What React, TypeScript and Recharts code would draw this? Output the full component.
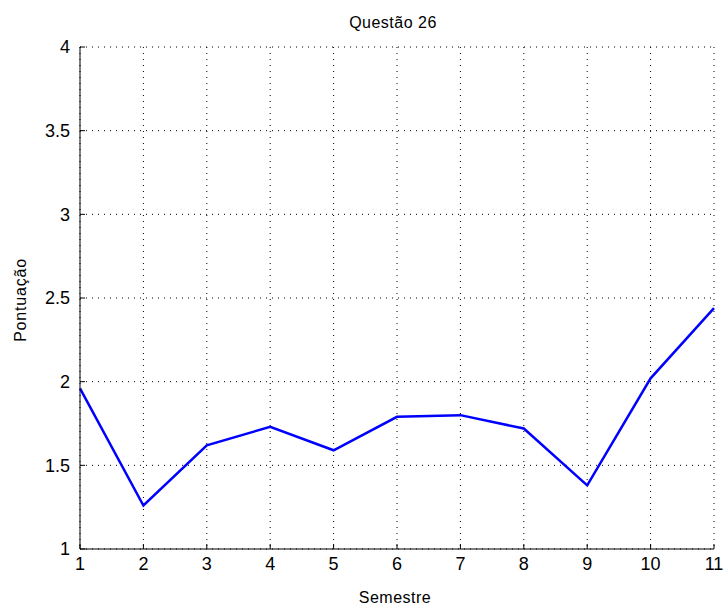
import React from "react";
import { LineChart, Line, XAxis, YAxis, CartesianGrid } from "recharts";

// semestres e pontuação média
const semestres = [1, 2, 3, 4, 5, 6, 7, 8, 9, 10, 11];
const pontuacao = [1.96, 1.26, 1.62, 1.73, 1.59, 1.79, 1.8, 1.72, 1.38, 2.02, 2.44];
const yTicks = [1, 1.5, 2, 2.5, 3, 3.5, 4];

const data = semestres.map((s, i) => ({ semestre: s, valor: pontuacao[i] }));

const FONT = "'Liberation Sans', Arial, sans-serif";

const XTick = (props: any) => {
  const { x, y, payload } = props;
  const axisY = y - 8;
  return (
    <g>
      <line x1={x} x2={x} y1={axisY} y2={axisY - 5} stroke="#000" />
      <text x={x} y={y} dy="0.71em" textAnchor="middle" fontSize={18} fontFamily={FONT} fill="#000">
        {payload.value}
      </text>
    </g>
  );
};

const YTick = (props: any) => {
  const { x, y, payload } = props;
  const axisX = x + 10;
  return (
    <g>
      <line x1={axisX} x2={axisX + 5} y1={y} y2={y} stroke="#000" />
      <text x={x} y={y} dy="0.35em" textAnchor="end" fontSize={18} fontFamily={FONT} fill="#000">
        {payload.value}
      </text>
    </g>
  );
};

export default function App() {
  return (
    <div style={{ position: "absolute", left: 0, top: 0, width: 724, height: 607, background: "#fff" }}>
      <LineChart width={724} height={607} data={data} margin={{ top: 47, right: 10, left: 0, bottom: 0 }}>
        <text x={393} y={28} textAnchor="middle" fontSize={16} letterSpacing={0.5} fontFamily={FONT} fill="#000">
          Questão 26
        </text>
        <text x={395} y={603} textAnchor="middle" fontSize={16} letterSpacing={0.5} fontFamily={FONT} fill="#000">
          Semestre
        </text>
        <text
          x={26}
          y={300}
          transform="rotate(-90 26 300)"
          textAnchor="middle"
          fontSize={16}
          letterSpacing={0.8}
          fontFamily={FONT}
          fill="#000"
        >
          Pontuação
        </text>
        <CartesianGrid stroke="#000" strokeDasharray="1 5" />
        <XAxis
          dataKey="semestre"
          type="number"
          domain={[1, 11]}
          ticks={semestres}
          interval={0}
          height={58}
          tickSize={0}
          tickMargin={8}
          tick={<XTick />}
          axisLine={{ stroke: "#000" }}
        />
        <YAxis
          type="number"
          domain={[1, 4]}
          ticks={yTicks}
          interval={0}
          width={80}
          tickSize={0}
          tickMargin={10}
          tick={<YTick />}
          axisLine={{ stroke: "#000" }}
        />
        <Line
          type="linear"
          dataKey="valor"
          stroke="#0000ff"
          strokeWidth={2.5}
          dot={false}
          isAnimationActive={false}
        />
      </LineChart>
    </div>
  );
}
